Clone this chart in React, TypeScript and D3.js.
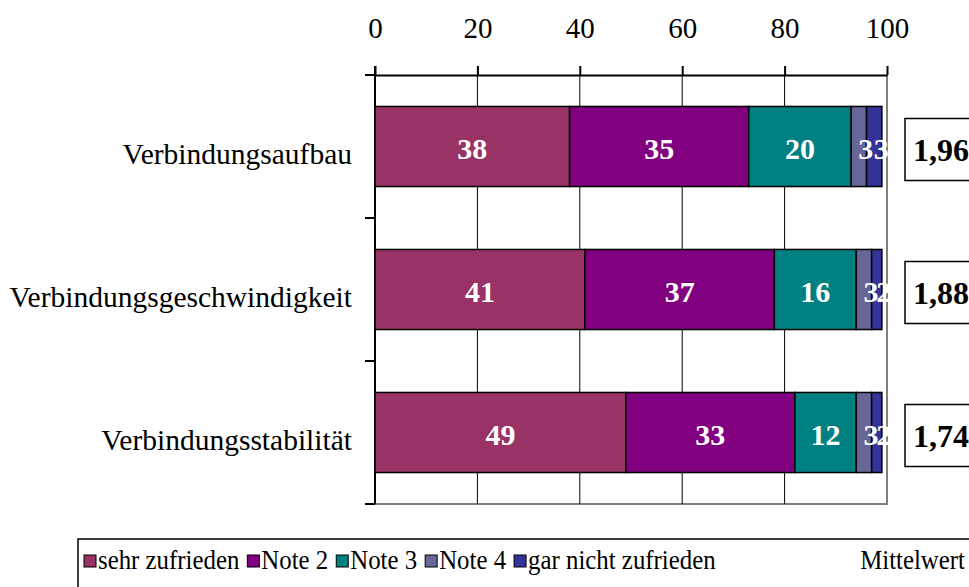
import React, { useEffect, useRef } from 'react';
import * as d3 from 'd3';

const categories = ['Verbindungsaufbau', 'Verbindungsgeschwindigkeit', 'Verbindungsstabilität'];
const seriesNames = ['sehr zufrieden', 'Note 2', 'Note 3', 'Note 4', 'gar nicht zufrieden'];
const seriesColors = ['#993366', '#800080', '#008080', '#666699', '#333399'];
const sehrZufrieden = [38, 41, 49];
const note2 = [35, 37, 33];
const note3 = [20, 16, 12];
const note4 = [3, 3, 3];
const garNicht = [3, 2, 2];
const mittelwert = ['1,96', '1,88', '1,74'];
const xTicks = [0, 20, 40, 60, 80, 100];

const serif = 'Liberation Serif, Times New Roman, Times, serif';

export default function App() {
  const svgRef = useRef<SVGSVGElement>(null);

  useEffect(() => {
    if (!svgRef.current) return;
    const svg = d3.select(svgRef.current);
    svg.selectAll('*').remove();

    const left = 375, right = 887, top = 75, bottom = 504;

    const x = d3.scaleLinear().domain([0, 100]).range([left, right]);
    const y = d3.scaleBand<string>()
      .domain(categories)
      .range([top, bottom])
      .paddingInner(0.44)
      .paddingOuter(0.22);

    const values = [sehrZufrieden, note2, note3, note4, garNicht];
    const rows = categories.map((c, i) => {
      const r: any = { cat: c };
      seriesNames.forEach((s, j) => (r[s] = values[j][i]));
      return r;
    });
    const stacked = d3.stack<any>().keys(seriesNames)(rows);

    // plot area border (gray right/bottom)
    svg.append('path')
      .attr('d', `M${right},${top}V${bottom}H${left}`)
      .attr('fill', 'none')
      .attr('stroke', '#808080')
      .attr('stroke-width', 2);

    // gridlines
    svg.append('g')
      .selectAll('line')
      .data(xTicks.slice(1, -1))
      .enter()
      .append('line')
      .attr('x1', d => x(d))
      .attr('x2', d => x(d))
      .attr('y1', top)
      .attr('y2', bottom)
      .attr('stroke', '#000')
      .attr('stroke-width', 1);

    // top axis
    const xAxis = svg.append('g')
      .attr('transform', `translate(0,${top})`)
      .call(d3.axisTop(x).tickValues(xTicks).tickSize(9).tickPadding(28).tickSizeOuter(0));
    xAxis.attr('font-family', serif).attr('font-size', 29);
    xAxis.select('.domain').attr('stroke', '#000').attr('stroke-width', 2);
    xAxis.selectAll('.tick line').attr('stroke', '#000').attr('stroke-width', 2);
    xAxis.selectAll('text').attr('fill', '#000');

    // left axis (category boundaries)
    const step = y.step();
    const yTicks = d3.range(categories.length + 1).map(i => top + i * step);
    svg.append('line')
      .attr('x1', left).attr('x2', left)
      .attr('y1', top - 9).attr('y2', bottom)
      .attr('stroke', '#000').attr('stroke-width', 2);
    svg.append('g')
      .selectAll('line')
      .data(yTicks)
      .enter()
      .append('line')
      .attr('x1', left - 10)
      .attr('x2', left)
      .attr('y1', d => d)
      .attr('y2', d => d)
      .attr('stroke', '#000')
      .attr('stroke-width', 2);

    // category labels
    svg.append('g')
      .selectAll('text')
      .data(categories)
      .enter()
      .append('text')
      .attr('x', 352)
      .attr('y', d => (y(d) || 0) + y.bandwidth() / 2)
      .attr('dy', '0.6em')
      .attr('text-anchor', 'end')
      .attr('font-size', 29.5)
      .text(d => d);

    // bars
    const layers = svg.append('g')
      .selectAll('g')
      .data(stacked)
      .enter()
      .append('g')
      .attr('fill', (_, i) => seriesColors[i]);

    layers.selectAll('rect')
      .data(d => d)
      .enter()
      .append('rect')
      .attr('x', d => x(d[0]))
      .attr('y', d => y(d.data.cat) || 0)
      .attr('width', d => x(d[1]) - x(d[0]))
      .attr('height', y.bandwidth())
      .attr('stroke', '#000')
      .attr('stroke-width', 1.5);

    // clip for value labels
    svg.append('clipPath')
      .attr('id', 'plotclip')
      .append('rect')
      .attr('x', 0).attr('y', 0)
      .attr('width', right + 2).attr('height', bottom);

    const labels = svg.append('g').attr('clip-path', 'url(#plotclip)');
    stacked.forEach(layer => {
      labels.selectAll(null)
        .data(layer)
        .enter()
        .append('text')
        .attr('x', d => {
          const mid = x((d[0] + d[1]) / 2);
          return d[1] - d[0] < 5 ? mid + 7 : mid;
        })
        .attr('y', d => (y(d.data.cat) || 0) + y.bandwidth() / 2)
        .attr('dy', '0.4em')
        .attr('text-anchor', 'middle')
        .attr('fill', '#fff')
        .attr('font-size', 30)
        .attr('font-weight', 'bold')
        .text(d => String(d[1] - d[0]));
    });

    // Mittelwert boxes
    const mw = svg.append('g');
    categories.forEach((c, i) => {
      const cy = (y(c) || 0) + y.bandwidth() / 2 + 3;
      mw.append('rect')
        .attr('x', 905)
        .attr('y', cy - 31)
        .attr('width', 80)
        .attr('height', 62)
        .attr('fill', '#fff')
        .attr('stroke', '#000')
        .attr('stroke-width', 1.5);
      mw.append('text')
        .attr('x', 913)
        .attr('y', cy)
        .attr('dy', '0.36em')
        .attr('font-size', 32)
        .attr('font-weight', 'bold')
        .text(mittelwert[i]);
    });

    // legend (Excel squeezes its legend font horizontally)
    const sx = 0.92;
    const lg = svg.append('g').attr('font-size', 27);
    lg.append('rect')
      .attr('x', 78).attr('y', 539)
      .attr('width', 920).attr('height', 70)
      .attr('fill', '#fff')
      .attr('stroke', '#000')
      .attr('stroke-width', 1.5);
    let lx = 84;
    seriesNames.forEach((s, i) => {
      lg.append('rect')
        .attr('x', lx).attr('y', 555)
        .attr('width', 12).attr('height', 12)
        .attr('fill', seriesColors[i])
        .attr('stroke', '#000')
        .attr('stroke-width', 1);
      const t = lg.append('text')
        .attr('transform', `translate(${lx + 14},569) scale(${sx},1)`)
        .text(s);
      const w = (t.node() as SVGTextElement).getComputedTextLength() * sx;
      lx = lx + 14 + w + 8;
    });
    lg.append('text')
      .attr('transform', `translate(965,569) scale(${sx},1)`)
      .attr('text-anchor', 'end')
      .text('Mittelwert');
  }, []);

  return (
    <svg
      ref={svgRef}
      width={969}
      height={587}
      fontFamily={serif}
      style={{ position: 'absolute', left: 0, top: 0, background: '#fff' }}
    />
  );
}
